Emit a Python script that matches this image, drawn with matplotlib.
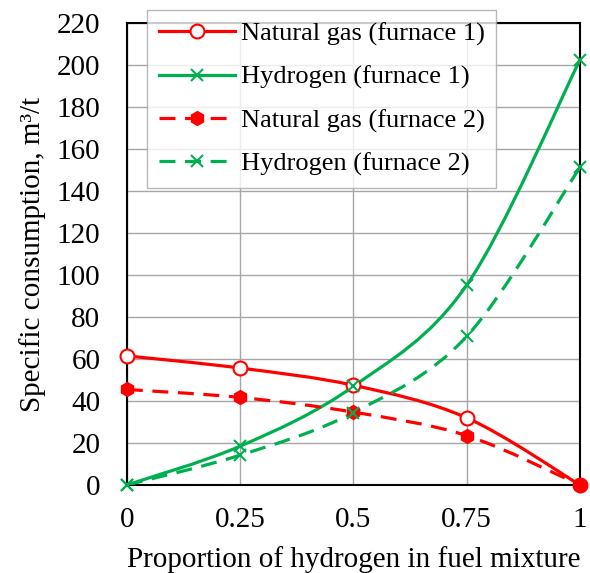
import numpy as np
import matplotlib.pyplot as plt
from matplotlib.path import Path
from matplotlib.patches import PathPatch
from matplotlib.lines import Line2D

plt.rcParams['font.family'] = ['Liberation Serif', 'DejaVu Serif']

x = [0, 0.25, 0.5, 0.75, 1]
ng1 = [61.5, 55.7, 47.5, 32.0, 0]
h1 = [0, 18.5, 47.0, 95.2, 202.5]
ng2 = [45.5, 41.7, 34.7, 23.5, 0]
h2 = [0, 14.2, 34.5, 70.8, 151.3]
labels = ["Natural gas (furnace 1)", "Hydrogen (furnace 1)",
          "Natural gas (furnace 2)", "Hydrogen (furnace 2)"]

red = "#FF0000"
green = "#00B050"


def smooth_path(xs, ys):
    # excel-like smoothed line, bezier through the points
    p = np.column_stack([xs, ys]).astype(float)
    n = len(p)
    verts = [p[0]]
    codes = [Path.MOVETO]
    for i in range(n - 1):
        p0 = p[i - 1] if i > 0 else p[i]
        p1 = p[i]
        p2 = p[i + 1]
        p3 = p[i + 2] if i + 2 < n else p[i + 1]
        c1 = p1 + (p2 - p0) / 6.0
        c2 = p2 - (p3 - p1) / 6.0
        verts += [c1, c2, p2]
        codes += [Path.CURVE4] * 3
    return Path(verts, codes)


fig = plt.figure(figsize=(5.9, 5.73), dpi=100)
ax = fig.add_axes([0.215, 0.1536, 0.768, 0.806])

dash = (0, (5, 3))
series = [
    (ng1, red, '-', dict(marker='o', markersize=10, markerfacecolor='white',
                         markeredgecolor=red, markeredgewidth=1.5)),
    (h1, green, '-', dict(marker='x', markersize=9, markeredgecolor=green,
                          markeredgewidth=1.5)),
    (ng2, red, dash, dict(marker='h', markersize=10, markerfacecolor=red,
                          markeredgecolor=red)),
    (h2, green, dash, dict(marker='x', markersize=9, markeredgecolor=green,
                           markeredgewidth=1.5)),
]

handles = []
for (ys, col, ls, mk), lab in zip(series, labels):
    patch = PathPatch(smooth_path(x, ys), fill=False, edgecolor=col,
                      linewidth=2.3, linestyle=ls, zorder=3,
                      capstyle='butt')
    ax.add_patch(patch)
    ax.plot(x, ys, linestyle='none', zorder=4, clip_on=False, **mk)
    handles.append(Line2D([], [], color=col, linewidth=2.3, linestyle=ls, **mk))

ax.set_xlim(0, 1)
ax.set_ylim(0, 220)
ax.set_xticks(x)
ax.set_xticklabels(["0", "0.25", "0.5", "0.75", "1"])
ax.set_yticks(np.arange(0, 221, 20))
ax.tick_params(length=0, labelsize=21, pad=16)
ax.tick_params(axis='y', pad=19)
ax.grid(True, color='#A6A6A6', linewidth=1)
ax.set_axisbelow(True)
for s in ax.spines.values():
    s.set_color('black')
    s.set_linewidth(1.5)

ax.set_xlabel("Proportion of hydrogen in fuel mixture", fontsize=21, labelpad=9)
ax.set_ylabel("Specific consumption, m³/t", fontsize=21, labelpad=8)

leg = fig.legend(handles=handles, labels=labels, loc='upper left',
                 bbox_to_anchor=(147 / 590, 1 - 10 / 573), fontsize=19,
                 frameon=True, fancybox=False, edgecolor='#A6A6A6',
                 handlelength=2.9, handletextpad=0.2, labelspacing=0.74,
                 borderpad=0.45, borderaxespad=0)
leg.get_frame().set_linewidth(1)
leg.set_zorder(10)

fig.savefig("out.png", dpi=100)
